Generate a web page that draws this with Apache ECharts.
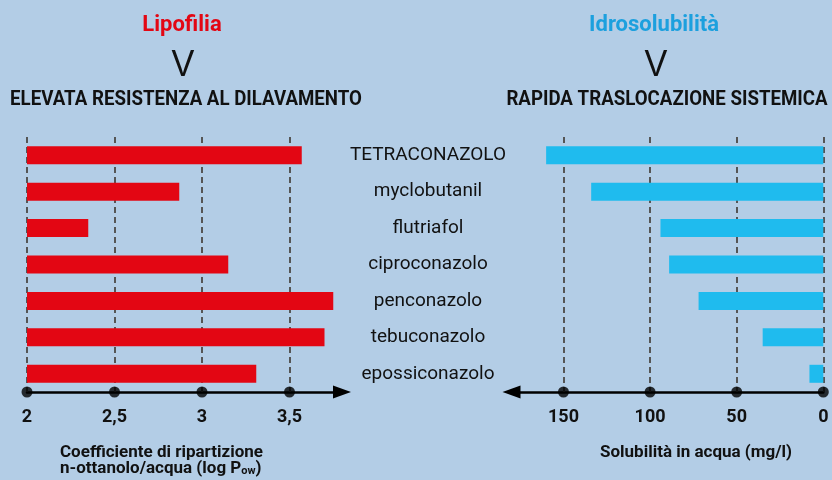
<!DOCTYPE html>
<html>
<head>
<meta charset="utf-8">
<script src="https://cdn.jsdelivr.net/npm/echarts@6/dist/echarts.min.js"></script>
<style>
  html, body { margin: 0; padding: 0; background: #b3cde6; }
  #chart { width: 832px; height: 480px; }
</style>
</head>
<body>
<div id="chart"></div>
<script>
// dati
var categories = ['TETRACONAZOLO', 'myclobutanil', 'flutriafol', 'ciproconazolo', 'penconazolo', 'tebuconazolo', 'epossiconazolo'];
var logPow = [3.57, 2.87, 2.35, 3.15, 3.75, 3.70, 3.31];
var solubility = [160, 134, 94, 89, 72, 35, 8];
var logTicks = [2, 2.5, 3, 3.5];
var solTicks = [0, 50, 100, 150];

var FONT = 'Roboto, sans-serif';
var RED = '#e30613';
var CYAN = '#1fbbee';

var chartDom = document.getElementById('chart');
var myChart = echarts.init(chartDom, null, { renderer: 'canvas' });

function dashLines(ticks) {
  return {
    silent: true,
    symbol: ['none', 'none'],
    z: 1,
    label: { show: false },
    lineStyle: { color: '#555', width: 2, type: [6, 4] },
    data: ticks.map(function (v) { return { xAxis: v }; })
  };
}

// la freccia va sempre verso il valore massimo (a sinistra per l'asse invertito)
function axisLine(symbols) {
  return {
    show: true,
    onZero: false,
    symbol: symbols,
    symbolSize: [13, 18],
    lineStyle: { color: '#000', width: 2.5 }
  };
}

// testo "condensato": scala orizzontale attorno al punto di ancoraggio
function label(x, y, text, font, color, sx, align, extra) {
  var st = { text: text, fill: color, font: font, textAlign: align || 'center', textVerticalAlign: 'middle' };
  if (extra) st.rich = extra;
  return { type: 'text', x: x, y: y, scaleX: sx, style: st };
}

var option = {
  backgroundColor: '#b3cde6',
  animation: false,
  grid: [
    { left: 27, right: 490, top: 137, height: 255 },
    { left: 511.5, right: 8.7, top: 137, height: 255 }
  ],
  xAxis: [
    {
      gridIndex: 0, type: 'value', min: 2, max: 3.8, interval: 0.5,
      axisLine: axisLine(['none', 'triangle']),
      axisTick: { show: false },
      splitLine: { show: false },
      axisLabel: {
        showMaxLabel: false, margin: 16,
        fontFamily: FONT, fontWeight: 'bold', fontSize: 18, color: '#111',
        formatter: function (v) { return String(v).replace('.', ','); }
      }
    },
    {
      gridIndex: 1, type: 'value', min: 0, max: 180, interval: 50, inverse: true,
      axisLine: axisLine(['triangle', 'none']),
      axisTick: { show: false },
      splitLine: { show: false },
      axisLabel: {
        showMaxLabel: false, margin: 16,
        fontFamily: FONT, fontWeight: 'bold', fontSize: 18, color: '#111'
      }
    }
  ],
  yAxis: [
    {
      gridIndex: 0, type: 'category', data: categories, inverse: true, position: 'right',
      axisLine: { show: false }, axisTick: { show: false },
      axisLabel: { margin: 86, align: 'center', fontFamily: FONT, fontSize: 19, color: '#111' }
    },
    {
      gridIndex: 1, type: 'category', data: categories, inverse: true, show: false
    },
    { gridIndex: 0, type: 'value', min: 0, max: 1, show: false },
    { gridIndex: 1, type: 'value', min: 0, max: 1, show: false }
  ],
  graphic: [
    label(182, 25, 'Lipofilia', 'bold 22px ' + FONT, RED, 1.0),
    label(183, 66, 'V', '36px "Liberation Sans", sans-serif', '#111', 0.95),
    label(186, 100, 'ELEVATA RESISTENZA AL DILAVAMENTO', 'bold 21px ' + FONT, '#111', 0.89),
    label(654, 25, 'Idrosolubilità', 'bold 22px ' + FONT, '#1ca0de', 1.0),
    label(656, 66, 'V', '36px "Liberation Sans", sans-serif', '#111', 0.95),
    label(667, 100, 'RAPIDA TRASLOCAZIONE SISTEMICA', 'bold 21px ' + FONT, '#111', 0.89),
    label(60, 453, 'Coefficiente di ripartizione', 'bold 17px ' + FONT, '#111', 1.0, 'left'),
    label(60, 469, 'n-ottanolo/acqua (log P{sub|ow})', 'bold 17px ' + FONT, '#111', 1.0, 'left',
      { sub: { fontFamily: FONT, fontWeight: 'bold', fontSize: 11, fill: '#111', padding: [5, 0, 0, 0] } }),
    label(696, 453, 'Solubilità in acqua (mg/l)', 'bold 17px ' + FONT, '#111', 1.0)
  ],
  series: [
    {
      type: 'bar', xAxisIndex: 0, yAxisIndex: 0, data: logPow, barWidth: 18,
      itemStyle: { color: RED }, z: 2,
      markLine: dashLines(logTicks)
    },
    {
      type: 'bar', xAxisIndex: 1, yAxisIndex: 1, data: solubility, barWidth: 18,
      itemStyle: { color: CYAN }, z: 2,
      markLine: dashLines(solTicks)
    },
    {
      type: 'scatter', xAxisIndex: 0, yAxisIndex: 2, clip: false, z: 5,
      symbolSize: 11, itemStyle: { color: '#000' },
      data: logTicks.map(function (v) { return [v, 0]; })
    },
    {
      type: 'scatter', xAxisIndex: 1, yAxisIndex: 3, clip: false, z: 5,
      symbolSize: 11, itemStyle: { color: '#000' },
      data: solTicks.map(function (v) { return [v, 0]; })
    }
  ]
};

option && myChart.setOption(option);
</script>
</body>
</html>
